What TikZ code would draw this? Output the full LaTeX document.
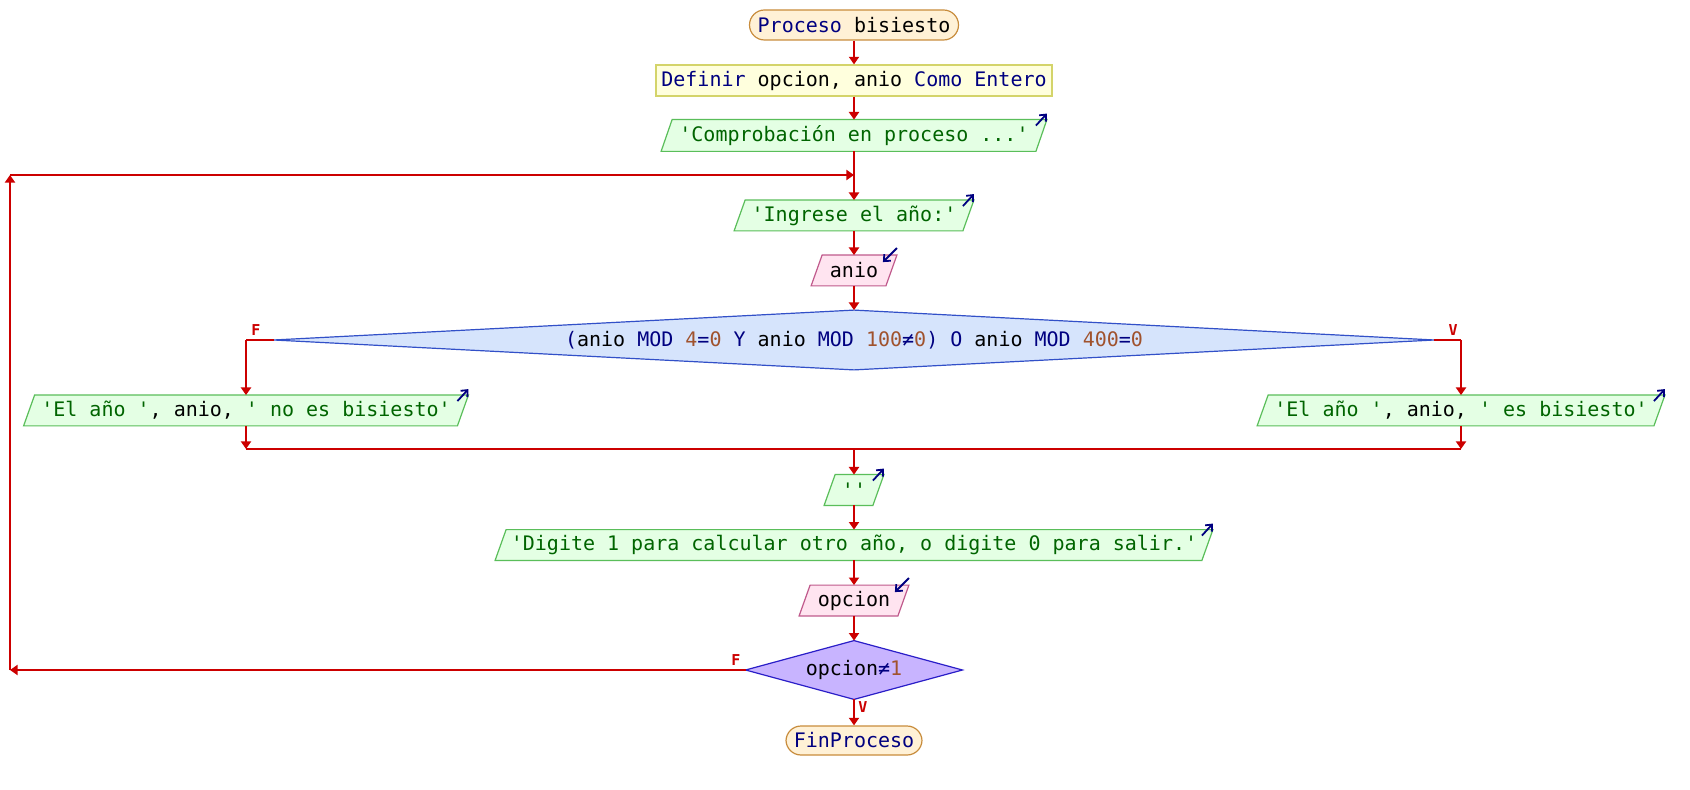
\documentclass[tikz,border=0pt]{standalone}
\usepackage{fontspec}
\setmonofont{DejaVu Sans Mono}
\usetikzlibrary{arrows.meta,backgrounds}
\definecolor{kwc}{HTML}{000080}
\definecolor{strc}{HTML}{006400}
\definecolor{numc}{HTML}{A0522D}
\definecolor{flowred}{HTML}{CC0000}
\definecolor{termf}{HTML}{FFF1D6}
\definecolor{termb}{HTML}{C88C3C}
\definecolor{deff}{HTML}{FFFFDD}
\definecolor{defb}{HTML}{D4D46A}
\definecolor{outf}{HTML}{E4FFE4}
\definecolor{outb}{HTML}{5ABE5A}
\definecolor{inf}{HTML}{FFE4F0}
\definecolor{inb}{HTML}{C05A8C}
\definecolor{dbf}{HTML}{D6E4FC}
\definecolor{dbb}{HTML}{3250C8}
\definecolor{dsf}{HTML}{C8B4FF}
\definecolor{dsb}{HTML}{2A1EC8}
\newcommand\kwd[1]{\textcolor{kwc}{#1}}
\newcommand\strg[1]{\textcolor{strc}{#1}}
\newcommand\numb[1]{\textcolor{numc}{#1}}
\newcommand\mypara[2]{\path[#1] ([xshift=2.75pt]#2.north west) -- ([xshift=2.75pt]#2.north east) -- ([xshift=-2.75pt]#2.south east) -- ([xshift=-2.75pt]#2.south west) -- cycle;}
\newcommand\mydiam[2]{\path[#1] (#2.north) -- (#2.east) -- (#2.south) -- (#2.west) -- cycle;}
\newcommand\outmark[1]{\draw[iomark] ([xshift=-2.75pt,yshift=-3pt]#1.north east) -- ([xshift=2.75pt,yshift=3pt]#1.north east);}
\newcommand\inmark[1]{\draw[iomark] ([xshift=2.75pt,yshift=3.5pt]#1.north east) -- ([xshift=-4.25pt,yshift=-3.5pt]#1.north east);}
\tikzset{
  txt/.style={font=\ttfamily\fontsize{10pt}{12pt}\selectfont, inner sep=0pt, anchor=center, text=black},
  term/.style={txt, draw=termb, fill=termf, line width=0.6pt, rounded corners=7.5pt, minimum height=15pt},
  defbox/.style={txt, draw=defb, fill=deff, line width=0.6pt},
  para/.style={txt, minimum height=15pt},
  dbox/.style={txt},
  outshape/.style={draw=outb, fill=outf, line width=0.6pt},
  inshape/.style={draw=inb, fill=inf, line width=0.6pt},
  bigdshape/.style={draw=dbb, fill=dbf, line width=0.6pt},
  smalldshape/.style={draw=dsb, fill=dsf, line width=0.6pt},
  flow/.style={draw=flowred, line width=1pt, -{Triangle[width=5pt,length=3.8pt]}},
  plainline/.style={draw=flowred, line width=1pt},
  iomark/.style={draw=kwc, line width=0.9pt, -{Straight Barb[length=2.6pt,width=4.6pt]}},
  lbl/.style={font=\ttfamily\bfseries\fontsize{7.5pt}{8pt}\selectfont, text=flowred, inner sep=0pt}
}
\begin{document}
\begin{tikzpicture}[x=0.5pt,y=-0.5pt]
\begin{scope}[on background layer]
\fill[white] (0,0) rectangle (1690,790);
\end{scope}
\useasboundingbox (0,0) rectangle (1690,790);

% nodes
\node[term, minimum width=104.5pt] (start) at (854,25) {\kwd{Proceso} bisiesto};
\node[defbox, minimum width=198pt, minimum height=15.5pt] (def) at (854,80.5) {\kwd{Definir} opcion, anio \kwd{Como Entero}};
\node[para, minimum width=187pt, minimum height=15.5pt] (o1) at (854,135.5) {\strg{'Comprobación en proceso ...'}};
\node[para, minimum width=114pt] (o2) at (854,215.5) {\strg{'Ingrese el año:'}};
\node[para, minimum width=37pt] (i1) at (854,270.5) {anio};
\node[dbox, minimum width=580pt, minimum height=29.5pt] (d1) at (854,340) {\kwd{(}anio \kwd{MOD} \numb{4}\kwd{=}\numb{0} \kwd{Y} anio \kwd{MOD} \numb{100}\kwd{≠}\numb{0}\kwd{)} \kwd{O} anio \kwd{MOD} \numb{400}\kwd{=}\numb{0}};
\node[para, minimum width=216.5pt] (o3) at (246,410.5) {\strg{'El año '}, anio, \strg{' no es bisiesto'}};
\node[para, minimum width=198pt] (o4) at (1461,410.5) {\strg{'El año '}, anio, \strg{' es bisiesto'}};
\node[para, minimum width=24pt] (o5) at (854,490) {\strg{''}};
\node[para, minimum width=353pt] (o6) at (854,545) {\strg{'Digite 1 para calcular otro año, o digite 0 para salir.'}};
\node[para, minimum width=49pt] (i2) at (854,600.5) {opcion};
\node[dbox, minimum width=108pt, minimum height=29pt] (d2) at (854,670) {opcion\kwd{≠}\numb{1}};
\node[term, minimum width=68pt, minimum height=14.5pt] (fin) at (854,740.5) {\kwd{FinProceso}};

% shapes behind text
\begin{scope}[on background layer]
\mypara{outshape}{o1}
\mypara{outshape}{o2}
\mypara{inshape}{i1}
\mydiam{bigdshape}{d1}
\mypara{outshape}{o3}
\mypara{outshape}{o4}
\mypara{outshape}{o5}
\mypara{outshape}{o6}
\mypara{inshape}{i2}
\mydiam{smalldshape}{d2}
\end{scope}

% io markers
\outmark{o1}
\outmark{o2}
\inmark{i1}
\outmark{o3}
\outmark{o4}
\outmark{o5}
\outmark{o6}
\inmark{i2}

% coordinates
\coordinate (loopR) at (854,175);
\coordinate (loopTL) at (10,175);
\coordinate (loopBL) at (10,670);
\coordinate (dL) at (246,340);
\coordinate (dR) at (1461,340);
\coordinate (mL) at (246,449);
\coordinate (mR) at (1461,449);
\coordinate (mC) at (854,449);

% connectors
\draw[flow] (start.south) -- (def.north);
\draw[flow] (def.south) -- (o1.north);
\draw[flow] (o1.south) -- (o2.north);
\draw[flow] (o2.south) -- (i1.north);
\draw[flow] (i1.south) -- (d1.north);
\draw[plainline] (d1.west) -- (dL);
\draw[flow] (dL) -- (o3.north);
\draw[plainline] (d1.east) -- (dR);
\draw[flow] (dR) -- (o4.north);
\draw[flow] (o3.south) -- (mL);
\draw[flow] (o4.south) -- (mR);
\draw[plainline] (mL) -- (mR);
\draw[flow] (mC) -- (o5.north);
\draw[flow] (o5.south) -- (o6.north);
\draw[flow] (o6.south) -- (i2.north);
\draw[flow] (i2.south) -- (d2.north);
\draw[flow] (d2.south) -- (fin.north);
\draw[flow] (d2.west) -- (loopBL);
\draw[flow] (loopBL) -- (loopTL);
\draw[flow] (loopTL) -- (loopR);

% labels
\node[lbl] (lf1) at (256,330) {F};
\node[lbl] (lv1) at (1453,330) {V};
\node[lbl] (lf2) at (736,660) {F};
\node[lbl] (lv2) at (863,707) {V};
\end{tikzpicture}
\end{document}
